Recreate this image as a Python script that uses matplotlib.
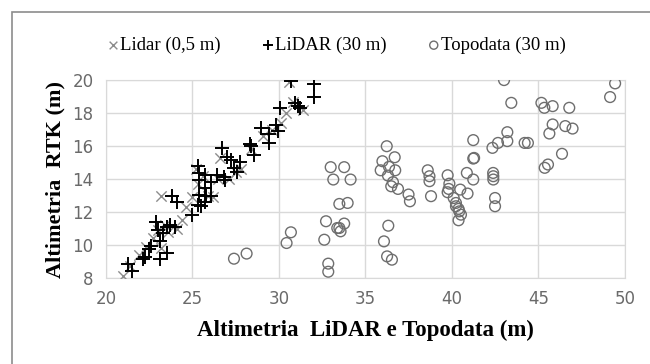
import matplotlib
matplotlib.use("Agg")
import matplotlib.pyplot as plt
from matplotlib.patches import Rectangle

# LiDAR (30 m) points
lidar30_x = [21.25, 21.48, 22.16, 22.25, 22.5, 22.6, 22.9, 23.0, 23.1, 23.1, 23.55,
             23.3, 23.55, 23.7, 24.0, 23.8, 24.1, 25.0, 25.3, 25.4, 25.4, 25.4,
             25.3, 25.5, 25.7, 25.8, 25.7, 26.05, 25.7, 26.1, 26.4, 26.7, 26.8,
             26.9, 27.0, 27.25, 27.4, 27.55, 27.75, 28.3, 28.4, 28.55, 28.95,
             29.4, 29.45, 29.85, 29.95, 30.05, 30.7, 30.9, 31.1, 31.2, 32.05, 32.05]
lidar30_y = [8.87, 8.41, 9.15, 9.3, 9.76, 9.96, 11.37, 10.93, 10.22, 9.15, 9.5,
             10.7, 11.1, 11.2, 11.1, 13.0, 12.6, 11.8, 14.8, 14.35, 13.95, 13.05,
             12.45, 12.35, 13.45, 12.95, 12.6, 12.95, 14.25, 13.85, 14.25, 15.9, 14.15,
             13.95, 15.35, 15.15, 14.65, 14.45, 15.05, 16.15, 16.0, 15.45, 17.1,
             16.2, 16.75, 17.3, 16.9, 18.3, 19.95, 18.6, 18.4, 18.3, 19.75, 18.95]

# Lidar (0,5 m) points
lidar05_x = [21.0, 21.4, 21.9, 22.3, 22.7, 23.0, 23.2, 23.4, 23.2, 24.1, 24.6,
             25.0, 25.2, 25.3, 25.6, 25.9, 26.2, 26.5, 26.6, 27.1, 27.5, 27.8,
             28.4, 29.1, 29.6, 30.1, 30.4, 30.8, 31.4, 30.6, 23.6, 24.4]
lidar05_y = [8.15, 8.7, 9.4, 9.9, 10.4, 10.9, 13.0, 11.2, 9.8, 11.0, 12.3,
             12.9, 14.6, 13.7, 14.2, 13.0, 12.9, 14.0, 15.3, 14.0, 14.4, 14.6,
             15.8, 16.6, 17.0, 17.4, 18.0, 18.7, 18.2, 19.9, 10.8, 11.5]

# Topodata (30 m) points
topo_x = [32.99, 33.77, 33.14, 34.14, 33.97, 33.49, 32.72, 33.77, 33.37, 33.56,
          33.49, 32.62, 32.85, 32.85, 36.23, 35.98, 36.69, 35.88, 36.36, 36.72,
          36.3, 36.59, 36.49, 36.88, 37.49, 37.57, 36.32, 36.07, 36.25, 36.53,
          38.6, 38.7, 38.7, 38.79, 39.75, 39.85, 39.75, 39.81, 40.48, 40.9,
          41.23, 40.86, 41.23, 41.28, 41.23, 40.1, 40.23, 40.38, 40.42, 40.52,
          40.38, 40.23, 42.34, 42.66, 43.2, 43.2, 43.01, 43.43, 42.38, 42.39,
          42.39, 42.49, 42.49, 44.2, 44.39, 45.17, 45.34, 45.82, 46.78, 45.82,
          45.63, 46.55, 46.97, 46.36, 45.36, 45.55, 49.14, 49.43,
          27.4, 28.13, 30.44, 30.69]
topo_y = [14.72, 14.72, 13.97, 13.97, 12.55, 12.49, 11.44, 11.3, 11.03, 10.83,
          11.03, 10.32, 8.87, 8.38, 15.99, 15.08, 15.32, 14.53, 14.74, 14.53,
          14.21, 13.81, 13.56, 13.4, 13.06, 12.65, 11.17, 10.22, 9.31, 9.11,
          14.53, 14.17, 13.87, 12.96, 14.23, 13.72, 13.2, 13.4, 13.36, 13.12,
          13.97, 14.37, 15.24, 15.28, 16.36, 12.85, 12.35, 12.19, 12.04, 11.84,
          11.5, 12.55, 15.89, 16.19, 16.84, 16.3, 20.0, 18.62, 14.37, 14.17,
          13.97, 12.85, 12.35, 16.19, 16.19, 18.62, 18.32, 18.42, 18.32, 17.31,
          16.76, 17.21, 17.06, 15.53, 14.68, 14.88, 18.97, 19.8,
          9.17, 9.48, 10.12, 10.77]

x_ticks = [20, 25, 30, 35, 40, 45, 50]
y_ticks = [8, 10, 12, 14, 16, 18, 20]

fig = plt.figure(figsize=(6.5, 3.64), dpi=100)
ax = fig.add_axes([0.163, 0.2363, 0.7985, 0.5437])

ax.scatter(lidar05_x, lidar05_y, marker='x', s=55, c='#8c8c8c', linewidths=1.0,
           label='Lidar (0,5 m)', zorder=3)
ax.scatter(lidar30_x, lidar30_y, marker='+', s=95, c='black', linewidths=1.4,
           label='LiDAR (30 m)', zorder=4)
ax.scatter(topo_x, topo_y, marker='o', s=60, facecolors='none', edgecolors='#6e6e6e',
           linewidths=1.0, label='Topodata (30 m)', zorder=3)

ax.set_xlim(20, 50)
ax.set_ylim(8, 20)
ax.set_xticks(x_ticks)
ax.set_yticks(y_ticks)
ax.grid(True, color='#d9d9d9', linewidth=1.0)
ax.set_axisbelow(True)
for sp in ax.spines.values():
    sp.set_color('#d9d9d9')
ax.tick_params(length=0, labelsize=12, colors='#6a6a6a', pad=9)
for lab in ax.get_xticklabels() + ax.get_yticklabels():
    lab.set_family('Liberation Sans Narrow')

ax.set_xlabel('Altimetria  LiDAR e Topodata (m)', family='Liberation Serif',
              fontweight='bold', fontsize=16.5, labelpad=8)
ax.set_ylabel('Altimetria  RTK (m)', family='Liberation Serif',
              fontweight='bold', fontsize=16, labelpad=5)

leg = fig.legend(loc='center', bbox_to_anchor=(0.515, 0.875), ncol=3, frameon=False,
                 handletextpad=-0.1, columnspacing=2.0, handlelength=1.0,
                 prop={'family': 'Liberation Serif', 'size': 13.5}, markerscale=0.75)

# chart border like the spreadsheet export
fig.patches.append(Rectangle((12 / 650, -0.1), 1.2, 1 - 12 / 364 + 0.1,
                             transform=fig.transFigure, fill=False,
                             edgecolor='#8c8c8c', linewidth=1.2))

fig.savefig('out.png', dpi=100)
